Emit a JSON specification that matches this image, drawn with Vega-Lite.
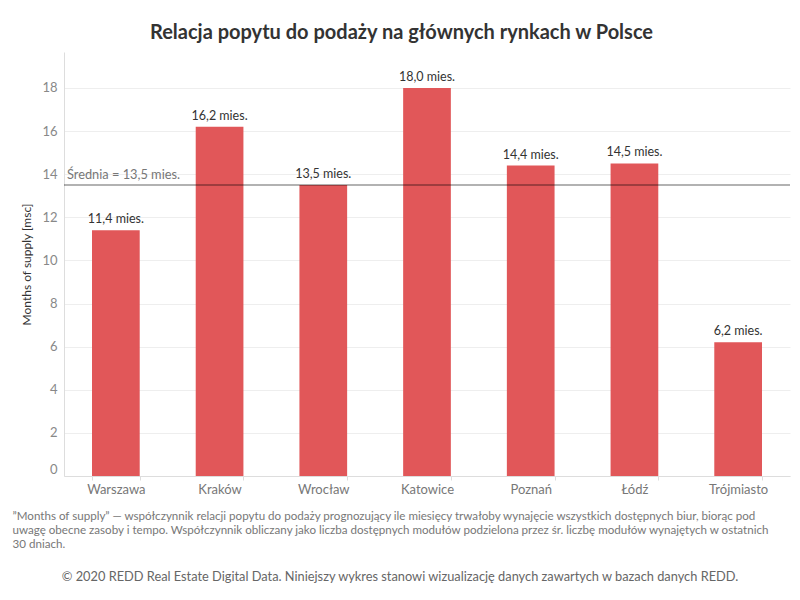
{
  "$schema": "https://vega.github.io/schema/vega-lite/v6.json",
  "padding": {"left": 12, "top": 23, "right": 10, "bottom": 10},
  "title": {
    "text": "Relacja popytu do podaży na głównych rynkach w Polsce",
    "font": "Lato", "fontSize": 20, "fontWeight": "bold", "color": "#333333",
    "anchor": "middle", "offset": 9
  },
  "spacing": 17,
  "datasets": {
    "markets": [
      {"miasto": "Warszawa", "mos": 11.4, "label": "11,4 mies."},
      {"miasto": "Kraków", "mos": 16.2, "label": "16,2 mies."},
      {"miasto": "Wrocław", "mos": 13.5, "label": "13,5 mies."},
      {"miasto": "Katowice", "mos": 18.0, "label": "18,0 mies."},
      {"miasto": "Poznań", "mos": 14.4, "label": "14,4 mies."},
      {"miasto": "Łódź", "mos": 14.5, "label": "14,5 mies."},
      {"miasto": "Trójmiasto", "mos": 6.2, "label": "6,2 mies."}
    ],
    "avg": [{"anchor": "Warszawa", "srednia": 13.5, "label": "Średnia = 13,5 mies."}],
    "credit": [{"text": "© 2020 REDD Real Estate Digital Data. Niniejszy wykres stanowi wizualizację danych zawartych w bazach danych REDD."}]
  },
  "vconcat": [
    {
      "width": 726,
      "height": 424,
      "data": {"name": "markets"},
      "encoding": {
        "x": {
          "field": "miasto", "type": "nominal", "sort": null,
          "scale": {"paddingInner": 0.54, "paddingOuter": 0.27},
          "axis": {
            "title": [
              "”Months of supply” — współczynnik relacji popytu do podaży prognozujący ile miesięcy trwałoby wynajęcie wszystkich dostępnych biur, biorąc pod",
              "uwagę obecne zasoby i tempo. Współczynnik obliczany jako liczba dostępnych modułów podzielona przez śr. liczbę modułów wynajętych w ostatnich",
              "30 dniach."
            ],
            "titleFont": "Lato", "titleFontSize": 11.6, "titleFontWeight": "normal", "titleColor": "#777777",
            "titleAlign": "left", "titleBaseline": "top", "titleX": -52, "titleY": 34, "titleLineHeight": 14,
            "labelAngle": 0, "labelFont": "Lato", "labelFontSize": 13, "labelColor": "#777777", "labelPadding": 3,
            "tickBand": "extent", "tickSize": 4, "tickColor": "#dddddd", "domainColor": "#dddddd"
          }
        },
        "y": {
          "field": "mos", "type": "quantitative",
          "scale": {"domain": [0, 19.67], "nice": false},
          "axis": {
            "title": "Months of supply [msc]", "titleFont": "Lato", "titleFontSize": 12, "titleFontWeight": "normal",
            "titleColor": "#333333", "titlePadding": 8,
            "values": [0, 2, 4, 6, 8, 10, 12, 14, 16, 18],
            "labelFont": "Lato", "labelFontSize": 13, "labelColor": "#888888", "labelPadding": 7, "labelFlush": true,
            "ticks": false, "domainColor": "#dddddd", "gridColor": "#eeeeee"
          }
        }
      },
      "layer": [
        {"mark": {"type": "bar", "color": "#e15759"}},
        {
          "mark": {"type": "text", "baseline": "bottom", "dy": -4, "font": "Lato", "fontSize": 12.5, "color": "#333333"},
          "encoding": {"text": {"field": "label"}}
        },
        {
          "data": {"name": "avg"},
          "mark": {"type": "rule", "color": "#000000", "opacity": 0.3, "strokeWidth": 2},
          "encoding": {"y": {"field": "srednia", "type": "quantitative"}, "x": null}
        },
        {
          "data": {"name": "avg"},
          "mark": {"type": "text", "align": "left", "baseline": "bottom", "dx": -25, "dy": -3, "font": "Lato", "fontSize": 12.8, "color": "#777777"},
          "encoding": {
            "x": {"field": "anchor", "type": "nominal", "bandPosition": 0},
            "y": {"field": "srednia", "type": "quantitative"},
            "text": {"field": "label"}
          }
        }
      ]
    },
    {
      "width": 672,
      "height": 20,
      "data": {"name": "credit"},
      "mark": {"type": "text", "font": "Lato", "fontSize": 12.8, "color": "#666666"},
      "encoding": {"text": {"field": "text"}}
    }
  ],
  "config": {"view": {"stroke": null}}
}
